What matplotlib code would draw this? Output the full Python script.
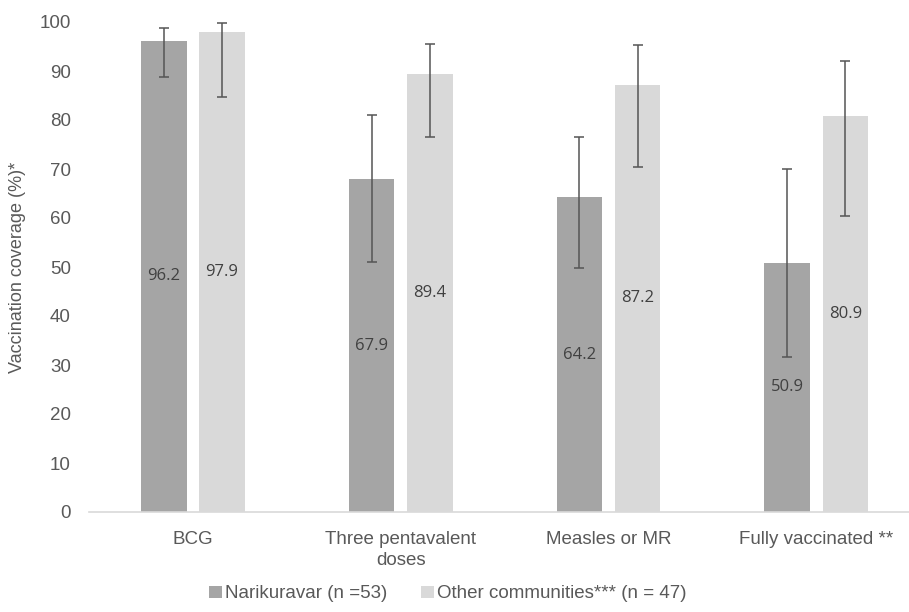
import numpy as np
import matplotlib.pyplot as plt

plt.rcParams['font.family'] = ['Liberation Sans', 'DejaVu Sans']

categories = ['BCG', 'Three pentavalent\ndoses', 'Measles or MR', 'Fully vaccinated **']
narikuravar = [96.2, 67.9, 64.2, 50.9]
nari_lo = [88.8, 51.0, 49.8, 31.6]
nari_hi = [98.8, 81.0, 76.5, 70.0]
others = [97.9, 89.4, 87.2, 80.9]
oth_lo = [84.7, 76.5, 70.4, 60.5]
oth_hi = [99.7, 95.6, 95.3, 92.1]
series_names = ['Narikuravar (n =53)', 'Other communities*** (n = 47)']

fig = plt.figure(figsize=(9.09, 6.12), dpi=100)
ax = fig.add_axes([89/909, 1-512/612, 820/909, 490/612])

x = np.arange(len(categories))
w = 0.22
off = 0.14
txt = '#595959'

def draw(pos, vals, lo, hi, color, label):
    vals = np.array(vals)
    err = [vals - np.array(lo), np.array(hi) - vals]
    ax.bar(pos, vals, w, color=color, label=label, zorder=2)
    ax.errorbar(pos, vals, yerr=err, fmt='none', ecolor='#555555',
                elinewidth=1.1, capsize=3.3, capthick=1.1, zorder=3)
    for p, v in zip(pos, vals):
        ax.text(p, v/2, f'{v:.1f}', ha='center', va='center',
                fontsize=12, color='#404040', family='Open Sans', zorder=4)

draw(x - off, narikuravar, nari_lo, nari_hi, '#a5a5a5', series_names[0])
draw(x + off, others, oth_lo, oth_hi, '#d9d9d9', series_names[1])

ax.set_xlim(-0.5, 3.446)
ax.set_ylim(0, 100)
ax.set_yticks(np.arange(0, 101, 10))
ax.set_xticks(x)
ax.set_xticklabels(categories, fontsize=13.5, color=txt, linespacing=1.3)
ax.tick_params(axis='y', labelsize=13.5, labelcolor=txt, length=0, pad=13)
ax.tick_params(axis='x', length=0, pad=14)
for s in ['top', 'right', 'left']:
    ax.spines[s].set_visible(False)
ax.spines['bottom'].set_color('#d9d9d9')
ax.spines['bottom'].set_linewidth(1.2)
ax.set_ylabel('Vaccination coverage (%)*', fontsize=13, color=txt, labelpad=10)

fig.legend(loc='lower center', bbox_to_anchor=(0.493, -0.012), ncol=2, frameon=False,
           fontsize=13.5, labelcolor=txt, handlelength=0.65, handleheight=0.65,
           handletextpad=0.2, columnspacing=1.8)

fig.savefig('out.png', dpi=100)
